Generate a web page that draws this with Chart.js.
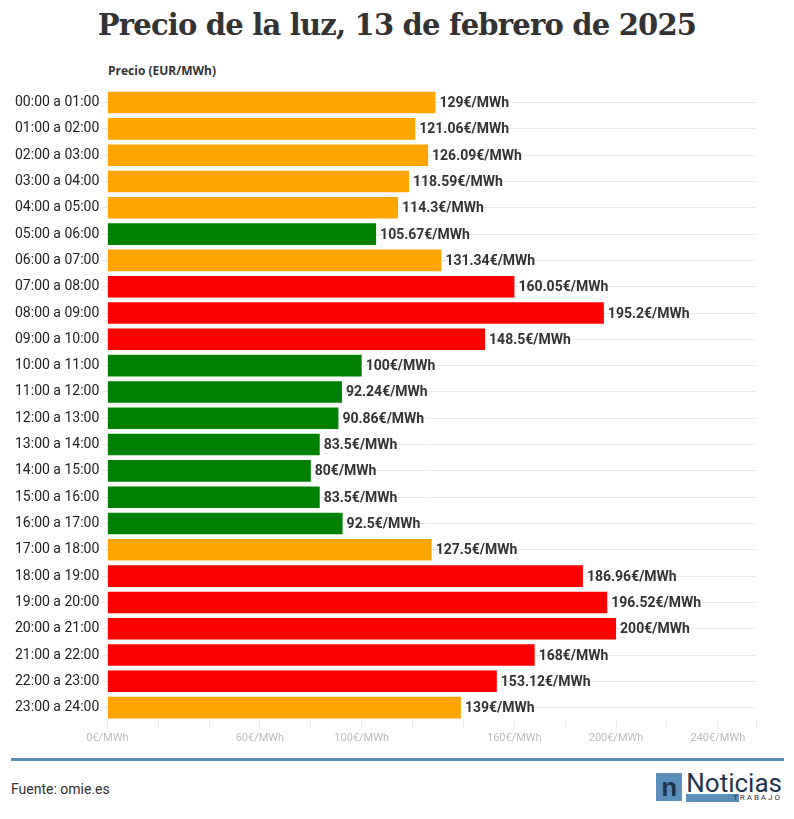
<!DOCTYPE html>
<html lang="es">
<head>
<meta charset="UTF-8" />
<script src="https://cdn.jsdelivr.net/npm/chart.js@4"></script>
<style>
  body { margin:0; width:794px; height:819px; background:#fff; position:relative; font-family:"Liberation Sans Narrow", Roboto, sans-serif; }
  h1 { position:absolute; top:8px; left:0; width:794px; margin:0; text-align:center; font:bold 29px "DejaVu Serif", serif; color:#333; letter-spacing:-0.8px; }
  #unit { position:absolute; top:62px; left:108px; font:bold 12px "Open Sans", sans-serif; color:#333; }
  #wrap { position:absolute; top:79px; left:0; width:794px; height:669px; }
  #rule { position:absolute; top:758px; left:11px; width:773px; height:3px; background:#5b8fb9; }
  #src { position:absolute; top:781px; left:11px; font-size:14px; color:#333; }
  #logo { position:absolute; top:772px; right:12px; display:flex; align-items:center; }
  #logo .n { width:26px; height:28px; background:#5b8fb9; color:#1f3550; font:bold 26px sans-serif; text-align:center; line-height:28px; }
  #logo .t { margin-left:4px; color:#1f3550; font-size:26px; line-height:22px; }
  #logo .t small { display:block; font-size:8px; letter-spacing:2px; text-align:right; background:linear-gradient(90deg,#5b8fb9 55%,#fff 55%); line-height:8px; }
</style>
</head>
<body>
<h1>Precio de la luz, 13 de febrero de 2025</h1>
<div id="unit">Precio (EUR/MWh)</div>
<div id="wrap"><canvas id="c"></canvas></div>
<div id="rule"></div>
<div id="src">Fuente: omie.es</div>
<div id="logo"><div class="n">n</div><div class="t">Noticias<small>TRABAJO</small></div></div>
<script>
const horas = ['00:00 a 01:00','01:00 a 02:00','02:00 a 03:00','03:00 a 04:00','04:00 a 05:00','05:00 a 06:00','06:00 a 07:00','07:00 a 08:00','08:00 a 09:00','09:00 a 10:00','10:00 a 11:00','11:00 a 12:00','12:00 a 13:00','13:00 a 14:00','14:00 a 15:00','15:00 a 16:00','16:00 a 17:00','17:00 a 18:00','18:00 a 19:00','19:00 a 20:00','20:00 a 21:00','21:00 a 22:00','22:00 a 23:00','23:00 a 24:00'];
const precios = [129,121.06,126.09,118.59,114.3,105.67,131.34,160.05,195.2,148.5,100,92.24,90.86,83.5,80,83.5,92.5,127.5,186.96,196.52,200,168,153.12,139];
const niveles = ['m','m','m','m','m','b','m','a','a','a','b','b','b','b','b','b','b','m','a','a','a','a','a','m'];
const tickShown = [0,60,100,160,200,240];

const colores = { b:'#008000', m:'#ffa500', a:'#ff0000' };

const valueLabels = {
  id:'valueLabels',
  afterDatasetsDraw(chart){
    const ctx = chart.ctx;
    ctx.save();
    ctx.font = 'bold 14px "Liberation Sans Narrow", Roboto, sans-serif';
    ctx.fillStyle = '#333';
    ctx.textBaseline = 'middle';
    chart.getDatasetMeta(0).data.forEach((bar, i) => {
      ctx.fillText(precios[i] + '€/MWh', bar.x + 4, bar.y + 1);
    });
    ctx.restore();
  }
};

new Chart(document.getElementById('c'), {
  type:'bar',
  data:{ labels:horas, datasets:[{ data:precios, backgroundColor:niveles.map(n=>colores[n]), barPercentage:0.82, categoryPercentage:1 }] },
  options:{
    indexAxis:'y', responsive:true, maintainAspectRatio:false, animation:false,
    layout:{ padding:{ left:13, right:38, top:0, bottom:0 } },
    plugins:{ legend:{display:false}, tooltip:{enabled:false} },
    scales:{
      x:{ min:0, max:255, ticks:{ stepSize:20, autoSkip:false, maxRotation:0, color:'#bbb', font:{size:11, family:'"Liberation Sans Narrow", Roboto, sans-serif'},
            callback:v => tickShown.includes(v) ? v + '€/MWh' : '' },
          grid:{ drawOnChartArea:false, drawTicks:true, tickLength:8, color:'#e6e6e6' }, border:{display:false} },
      y:{ ticks:{ color:'#222', font:{size:14, family:'"Liberation Sans Narrow", Roboto, sans-serif'}, padding:2 },
          grid:{ offset:false, color:'#eaeaea', tickLength:6 }, border:{display:false} }
    }
  },
  plugins:[valueLabels]
});
</script>
</body>
</html>
